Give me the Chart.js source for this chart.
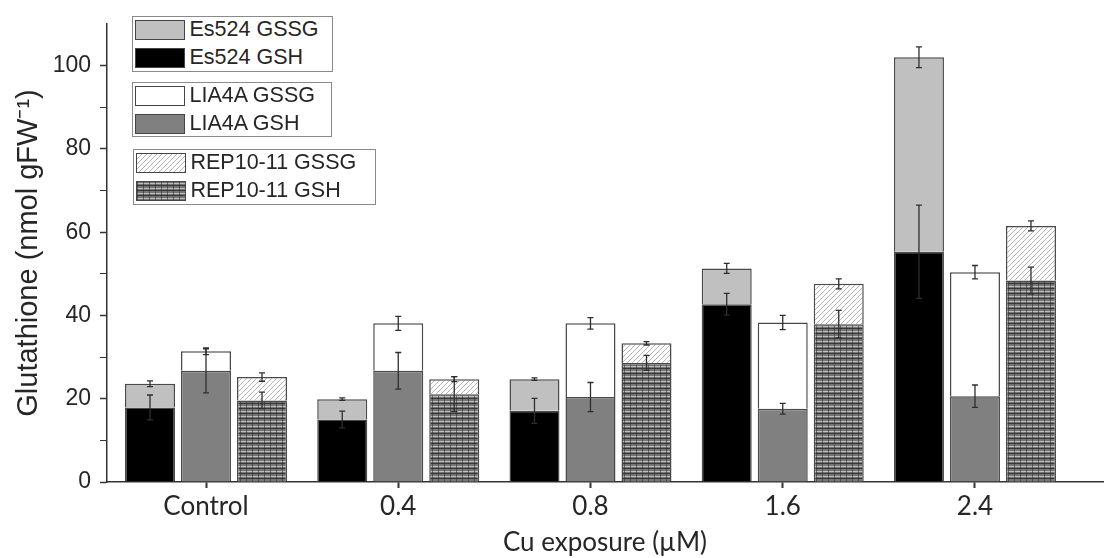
<!DOCTYPE html>
<html><head><meta charset="utf-8">
<script src="https://cdn.jsdelivr.net/npm/chart.js@4.4.1/dist/chart.umd.min.js"></script>
<style>
html,body{margin:0;padding:0;background:#fff;}
#wrap{position:relative;width:1104px;height:558px;overflow:hidden;}
#c{position:absolute;left:0;top:0;}
.lg{position:absolute;border:1.5px solid #8a8a8a;background:#fff;box-sizing:border-box;font-family:"Liberation Sans",Arial,sans-serif;font-size:21.5px;color:#262626;}
.row{position:absolute;left:1.5px;height:20px;display:flex;align-items:center;white-space:nowrap;}
.sw{width:50px;height:20px;box-sizing:border-box;border:1.5px solid #444;margin-right:5px;flex:none;}
</style></head><body>
<div id="wrap"><canvas id="c" width="1104" height="558"></canvas><div id="legend"></div></div>
<script>
// ---- data ----
const categories = ['Control', '0.4', '0.8', '1.6', '2.4'];
const es524GSH   = [17.9, 15.0, 17.1, 42.7, 55.3];
const es524GSSG  = [5.7, 4.9, 7.6, 8.6, 46.7];
const es524GSHErr = [3.0, 2.0, 3.0, 2.6, 11.2];
const es524TotErr = [0.7, 0.3, 0.3, 1.2, 2.5];
const lia4aGSH   = [26.7, 26.7, 20.4, 17.6, 20.6];
const lia4aGSSG  = [4.7, 11.4, 17.7, 20.7, 29.8];
const lia4aGSHErr = [5.3, 4.4, 3.5, 1.3, 2.7];
const lia4aTotErr = [0.8, 1.7, 1.4, 1.7, 1.6];
const repGSH     = [19.6, 21.1, 28.6, 37.9, 48.4];
const repGSSG    = [5.6, 3.6, 4.7, 9.7, 13.1];
const repGSHErr  = [2.0, 4.2, 1.8, 3.3, 3.2];
const repTotErr  = [1.0, 0.6, 0.4, 1.2, 1.2];
const yTickLabels = [0, 20, 40, 60, 80, 100];
const yTickMarks  = [0, 10, 20, 30, 40, 50, 60, 70, 80, 90, 100];

// ---- patterns ----
function hatchTile(){
  const c=document.createElement('canvas'); c.width=5; c.height=5;
  const x=c.getContext('2d'); x.fillStyle='#fff'; x.fillRect(0,0,5,5);
  x.strokeStyle='#b4b4b4'; x.lineWidth=1;
  x.beginPath(); x.moveTo(0,5); x.lineTo(5,0); x.moveTo(-2.5,2.5); x.lineTo(2.5,-2.5); x.moveTo(2.5,7.5); x.lineTo(7.5,2.5); x.stroke();
  return c;
}
function gridTile(){
  const c=document.createElement('canvas'); c.width=6; c.height=5;
  const x=c.getContext('2d'); x.fillStyle='#767676'; x.fillRect(0,0,6,5);
  x.fillStyle='#bdbdbd'; x.fillRect(0,1,6,1);
  x.fillStyle='#383838'; x.fillRect(0,3,6,1);
  x.fillStyle='rgba(40,40,40,0.55)'; x.fillRect(0,0,1,5);
  return c;
}
const ctx0=document.getElementById('c').getContext('2d');
const hatchC=hatchTile(), gridC=gridTile();
const hatch=ctx0.createPattern(hatchC,'repeat');
const grid=ctx0.createPattern(gridC,'repeat');

const pts = arr => arr.map((v,i)=>({x:i,y:v}));
const border='#4a4a4a';
const datasets=[
  {label:'Es524 GSH', data:pts(es524GSH), stack:'a', backgroundColor:'#000', swatch:'#000'},
  {label:'Es524 GSSG', data:pts(es524GSSG), stack:'a', backgroundColor:'#c0c0c0', swatch:'#c0c0c0'},
  {label:'LIA4A GSH', data:pts(lia4aGSH), stack:'b', backgroundColor:'#808080', swatch:'#808080'},
  {label:'LIA4A GSSG', data:pts(lia4aGSSG), stack:'b', backgroundColor:'#fff', swatch:'#fff'},
  {label:'REP10-11 GSH', data:pts(repGSH), stack:'c', backgroundColor:grid, swatch:'url('+gridC.toDataURL()+')'},
  {label:'REP10-11 GSSG', data:pts(repGSSG), stack:'c', backgroundColor:hatch, swatch:'url('+hatchC.toDataURL()+')'}
].map(d=>Object.assign(d,{borderColor:border,borderWidth:1.5,categoryPercentage:0.874,barPercentage:0.893}));

const sum=(a,b)=>a.map((v,i)=>v+b[i]);
const errSpecs=[
  {ds:0, top:es524GSH, err:es524GSHErr},
  {ds:1, top:sum(es524GSH,es524GSSG), err:es524TotErr},
  {ds:2, top:lia4aGSH, err:lia4aGSHErr},
  {ds:3, top:sum(lia4aGSH,lia4aGSSG), err:lia4aTotErr},
  {ds:4, top:repGSH, err:repGSHErr},
  {ds:5, top:sum(repGSH,repGSSG), err:repTotErr}
];
const errPlugin={
  id:'errbars',
  afterDatasetsDraw(chart){
    const c=chart.ctx, ys=chart.scales.y;
    c.save(); c.strokeStyle='#2e2e2e'; c.lineWidth=1.3;
    errSpecs.forEach(s=>{
      chart.getDatasetMeta(s.ds).data.forEach((bar,i)=>{
        const y1=ys.getPixelForValue(s.top[i]+s.err[i]), y2=ys.getPixelForValue(s.top[i]-s.err[i]);
        const x=bar.x;
        c.beginPath(); c.moveTo(x,y1); c.lineTo(x,y2);
        c.moveTo(x-3,y1); c.lineTo(x+3,y1); c.moveTo(x-3,y2); c.lineTo(x+3,y2); c.stroke();
      });
    });
    c.restore();
  }
};

function buildLegend(){
  const groups=[
    {left:132,top:16,w:201,h:56,items:[1,0]},
    {left:132,top:82,w:200,h:55,items:[3,2]},
    {left:133,top:149,w:243,h:56,items:[5,4]}
  ];
  const host=document.getElementById('legend');
  groups.forEach(g=>{
    const box=document.createElement('div'); box.className='lg';
    Object.assign(box.style,{left:g.left+'px',top:g.top+'px',width:g.w+'px',height:g.h+'px'});
    g.items.forEach((di,k)=>{
      const d=datasets[di];
      const row=document.createElement('div'); row.className='row'; row.style.top=(2.5+k*28)+'px';
      const sw=document.createElement('div'); sw.className='sw';
      if(d.swatch.startsWith('url')) sw.style.backgroundImage=d.swatch; else sw.style.background=d.swatch;
      const t=document.createElement('span'); t.textContent=d.label;
      row.appendChild(sw); row.appendChild(t); box.appendChild(row);
    });
    host.appendChild(box);
  });
}

function draw(){
  new Chart(document.getElementById('c'),{
    type:'bar',
    data:{datasets},
    plugins:[errPlugin],
    options:{
      responsive:false, animation:false,
      layout:{padding:{top:24,right:1,left:0,bottom:0}},
      plugins:{legend:{display:false},tooltip:{enabled:false}},
      scales:{
        x:{type:'linear',stacked:true,offset:false,min:-0.515,max:4.666,
          afterBuildTicks(s){s.ticks=categories.map((c,i)=>({value:i}));},
          ticks:{callback:v=>categories[v],font:{family:'Lato',size:26},color:'#262626',padding:3,autoSkip:false,maxRotation:0},
          grid:{offset:false,drawOnChartArea:false,tickLength:6,tickColor:'#333',tickWidth:2},
          border:{color:'#333',width:1.5},
          title:{display:true,text:'Cu exposure (µM)',font:{family:'Lato',size:26},color:'#262626',padding:{top:0,bottom:0}},
          afterFit(s){s.height=76;}
        },
        y:{stacked:true,min:0,max:110,
          afterBuildTicks(s){s.ticks=yTickMarks.map(v=>({value:v}));},
          ticks:{callback:v=>yTickLabels.includes(v)?String(v):'',font:{family:'Liberation Sans',size:23},color:'#262626',padding:9,autoSkip:false},
          grid:{drawOnChartArea:false,tickLength:7,tickColor:'#333',tickWidth:c=>yTickLabels.includes(c.tick.value)?1.5:1},
          border:{color:'#333',width:1.5},
          title:{display:true,text:'Glutathione (nmol gFW⁻¹)',font:{family:'Liberation Sans',size:29},color:'#262626',padding:{top:12,bottom:0}},
          afterFit(s){s.width=107;}
        }
      }
    }
  });
  buildLegend();
}
Promise.all([document.fonts.load('26px Lato'),document.fonts.load('22px "Liberation Sans"')]).then(draw,draw);
</script>
</body></html>
